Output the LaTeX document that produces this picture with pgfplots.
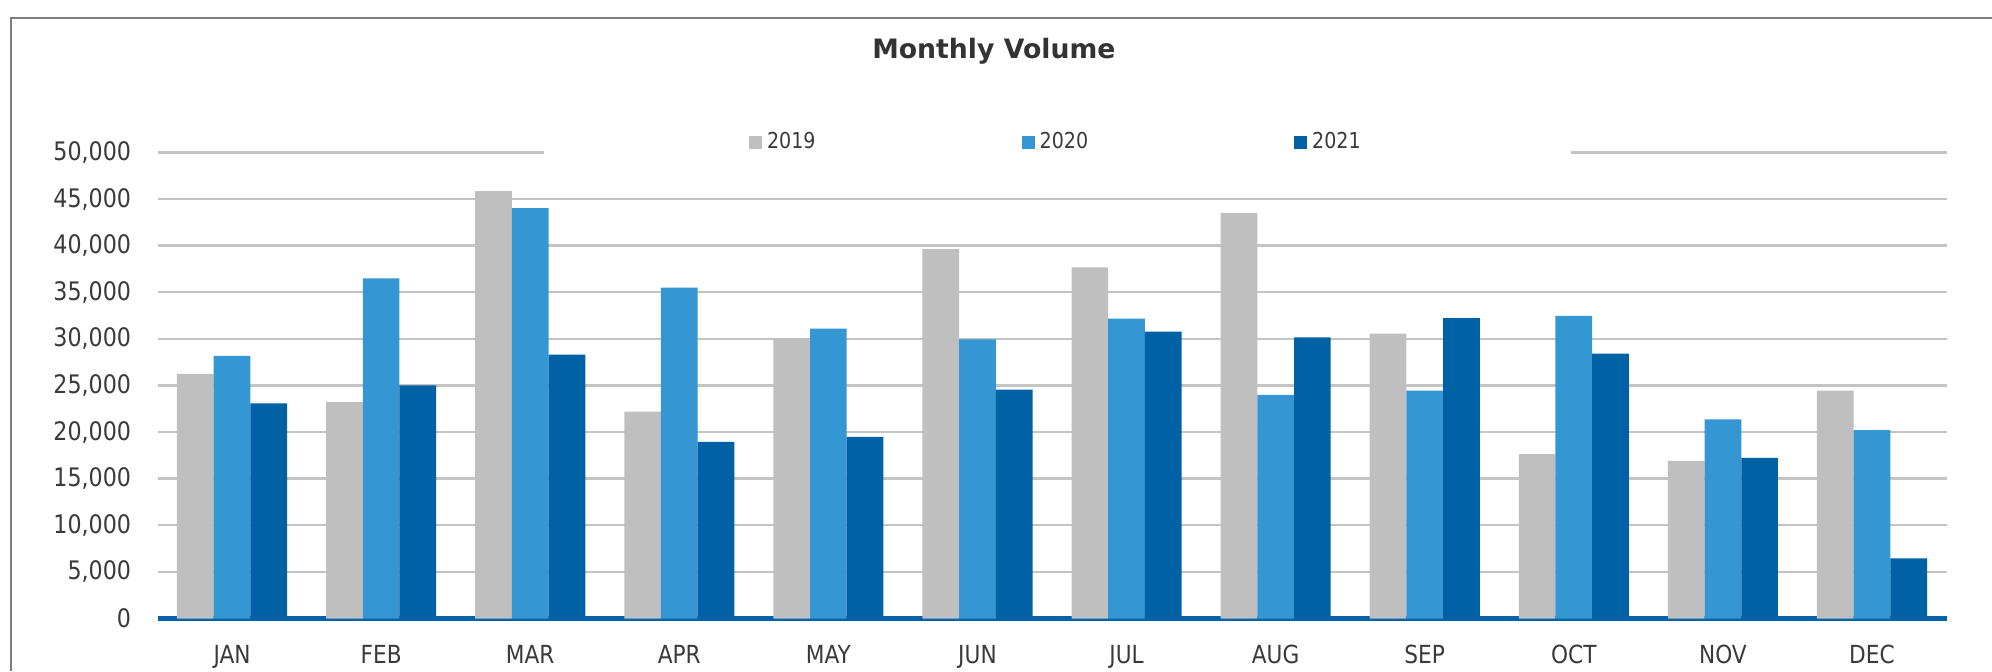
\documentclass[border=0pt]{standalone}
\usepackage{fontspec}
\setmainfont{DejaVu Sans}[FakeStretch=0.87]
\newfontfamily\titlefont{DejaVu Sans}
\usepackage{pgfplots}
\pgfplotsset{compat=1.18}
\definecolor{c19}{HTML}{BFBFBF}
\definecolor{c20}{HTML}{3497D3}
\definecolor{c21}{HTML}{0061A5}
\definecolor{axisc}{HTML}{0063A8}
\definecolor{gridc}{HTML}{C4C4C4}
\definecolor{borderc}{HTML}{7F7F7F}
\definecolor{txt}{HTML}{3A3A3A}
\definecolor{titlec}{HTML}{333333}
\pgfplotsset{myleg/.style={legend image code/.code={\fill[##1] (0bp,-3.25bp) rectangle (6.5bp,3.25bp);}}}
\begin{document}
\begin{tikzpicture}[x=1bp,y=1bp]
\path[use as bounding box] (0,0) rectangle (996,335.5);
\draw[color=borderc, line width=1bp] (5.5,0) -- (5.5,326.5) -- (996,326.5);
\begin{axis}[
  at={(78.75bp,26.25bp)}, anchor=south west,
  width=894.5bp, height=233.05bp, scale only axis,
  xmin=-0.5, xmax=11.5, ymin=0, ymax=50000,
  ybar=0pt, bar width=18.35bp,
  xtick={0,1,2,3,4,5,6,7,8,9,10,11},
  xticklabels={JAN,FEB,MAR,APR,MAY,JUN,JUL,AUG,SEP,OCT,NOV,DEC},
  ytick={0,5000,10000,15000,20000,25000,30000,35000,40000,45000,50000},
  ymajorgrids, grid style={color=gridc, line width=1.2bp},
  separate axis lines,
  axis x line*=bottom, axis y line*=left,
  x axis line style={draw=axisc, line width=2.5bp},
  y axis line style={draw=none},
  major tick length=0pt, tick style={draw=none},
  scaled y ticks=false,
  /pgf/number format/.cd, fixed, 1000 sep={,}, assume math mode=true,
  /pgfplots/.cd,
  xticklabel style={font=\fontsize{12.5}{14}\selectfont, text=txt, anchor=base, inner sep=0pt, yshift=-22.25bp},
  yticklabel style={font=\fontsize{12.8}{14}\selectfont, text=txt, anchor=east, inner sep=0pt, xshift=-13bp},
  title={\titlefont\bfseries Monthly Volume},
  title style={at={(0.4675,1.175)}, anchor=base, inner sep=0pt, font=\fontsize{13.4}{15}\selectfont, text=titlec},
  legend columns=3,
  legend cell align=left,
  legend style={at={(0.5030,1.0223)}, anchor=center, fill=white, draw=none,
    inner xsep=102.5bp, inner ysep=4bp, font=\fontsize{11}{13}\selectfont, text=txt,
    /tikz/every even column/.append style={column sep=100.5bp},
    nodes={inner xsep=2.5bp, inner ysep=0pt}},
]
\addplot[fill=c19, draw=none, myleg] coordinates {
(0,26250) (1,23200) (2,45860) (3,22200) (4,30070) (5,39630)
(6,37670) (7,43510) (8,30550) (9,17630) (10,16900) (11,24450)};
\addplot[fill=c20, draw=none, myleg] coordinates {
(0,28180) (1,36490) (2,44030) (3,35490) (4,31090) (5,29950)
(6,32180) (7,23990) (8,24450) (9,32460) (10,21360) (11,20210)};
\addplot[fill=c21, draw=none, myleg] coordinates {
(0,23070) (1,25000) (2,28300) (3,18950) (4,19480) (5,24540)
(6,30770) (7,30150) (8,32230) (9,28410) (10,17220) (11,6450)};
\legend{2019,2020,2021}
\end{axis}
\end{tikzpicture}
\end{document}
